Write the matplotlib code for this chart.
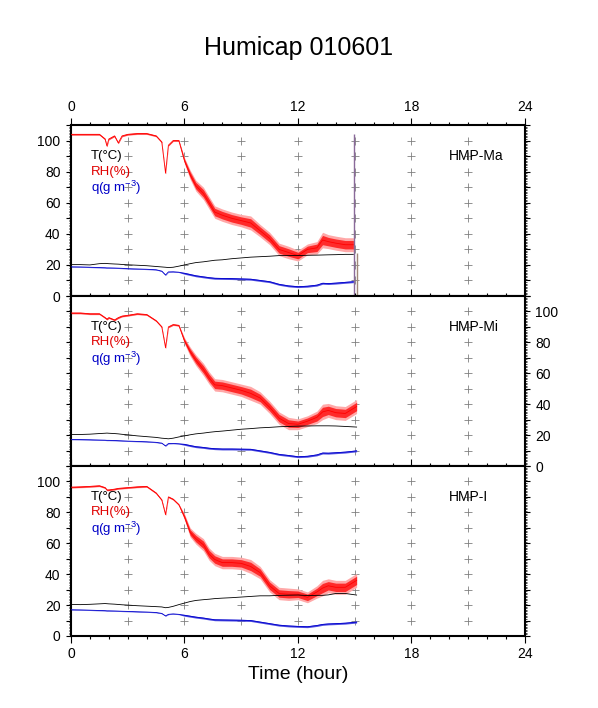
import numpy as np
from matplotlib import pyplot as plt
from matplotlib.ticker import MultipleLocator, FuncFormatter

plt.rcParams['font.family'] = ['Liberation Sans', 'DejaVu Sans']
plt.rcParams['mathtext.fontset'] = 'custom'
plt.rcParams['mathtext.rm'] = 'Liberation Sans'
plt.rcParams['mathtext.default'] = 'regular'

# sample times (hour)
hours = [0, 0.5, 1.0, 1.5, 1.8, 1.9, 2.0, 2.3, 2.5, 2.7, 3.0, 3.5, 4.0, 4.5, 4.8,
         5.0, 5.15, 5.4, 5.7, 6.0, 6.3, 6.6, 7.0, 7.3, 7.6, 8.0, 8.5, 9.0, 9.5,
         10.0, 10.5, 11.0, 11.5, 12.0, 12.5, 13.0, 13.3, 13.6, 14.0, 14.5, 15.1]
hours_ma = hours[:-1] + [14.93]

# HMP-Ma
rh_ma = [104, 104, 104, 104, 101, 96.5, 101, 103, 98.5, 103, 104, 104.5, 104.5, 103, 99,
         79, 97, 100, 100, 87, 78, 71, 66, 60, 54, 52, 50, 48.5, 47,
         42, 37, 30, 28, 26, 30, 31, 36, 35, 34, 33, 33]
t_ma = [20.2, 20.2, 20.0, 20.8, 21.0, 20.9, 20.8, 20.6, 20.5, 20.3, 20.1, 19.8, 19.5, 19.0, 18.7,
        18.5, 18.3, 18.5, 19.2, 20.0, 20.8, 21.5, 22.0, 22.5, 23.0, 23.3, 24.0, 24.5, 25.0,
        25.3, 25.6, 26.0, 26.0, 26.0, 26.2, 26.3, 26.4, 26.5, 26.6, 26.8, 26.8]
q_ma = [18.8, 18.7, 18.5, 18.3, 18.2, 18.1, 18.1, 18.0, 17.9, 17.8, 17.6, 17.4, 17.2, 16.9, 16.0,
        13.5, 15.5, 15.6, 15.3, 14.6, 13.8, 13.0, 12.3, 11.8, 11.4, 11.3, 11.2, 11.0, 10.8,
        10.0, 9.2, 7.5, 6.5, 6.0, 6.3, 7.0, 8.2, 8.0, 8.3, 8.8, 9.2]
# spikes at the end of the HMP-Ma record
spike_hours = [14.95, 15.14]
spike_tops = [104, 27.7]
spike_colors = ['#8a6a9a', '#a08878']

# HMP-Mi
rh_mi = [99, 99, 98.5, 98.5, 96, 95, 96, 94.5, 96, 97, 97.5, 98.5, 98, 94, 90,
         76.5, 90, 91.5, 91, 81, 74, 68.5, 62.5, 57, 52.5, 52, 50.5, 49, 47,
         44, 38, 31, 27.5, 27, 29, 31.5, 35, 36, 34.5, 34, 38.5]
t_mi = [20.4, 20.4, 20.6, 21.0, 21.2, 21.3, 21.2, 21.0, 20.8, 20.5, 20.2, 19.5, 19.0, 18.5, 18.0,
        17.8, 17.6, 18.0, 18.8, 19.5, 20.2, 20.8, 21.3, 21.8, 22.2, 22.6, 23.2, 23.8, 24.2,
        24.7, 25.0, 25.4, 25.6, 25.8, 25.9, 26.0, 26.0, 26.0, 25.9, 25.6, 25.2]
q_mi = [17.2, 17.1, 17.0, 16.8, 16.7, 16.6, 16.6, 16.5, 16.4, 16.3, 16.1, 15.9, 15.7, 15.3, 14.8,
        13.0, 14.5, 14.6, 14.4, 14.0, 13.2, 12.5, 12.0, 11.5, 11.2, 11.0, 11.0, 10.9, 10.8,
        9.8, 8.8, 7.5, 6.8, 6.0, 6.3, 7.2, 8.4, 8.3, 8.6, 9.0, 9.8]

# HMP-I
rh_i = [96.3, 96.5, 96.8, 97.2, 96, 94.5, 94.5, 95, 95.5, 95.7, 96, 96.5, 96.8, 92.5, 88,
        78.5, 90, 88.5, 85, 77, 67, 63, 59, 53, 49.5, 47.5, 47.5, 47, 45,
        41, 32.5, 27.5, 27, 27, 25, 28.5, 31, 32.5, 31.5, 31.5, 36]
t_i = [20.4, 20.3, 20.5, 20.8, 21.0, 20.9, 20.8, 20.6, 20.4, 20.2, 20.0, 19.6, 19.3, 19.0, 18.8,
       18.3, 18.5, 19.2, 20.3, 21.3, 22.3, 23.0, 23.5, 23.8, 24.2, 24.5, 24.8, 25.2, 25.6,
       26.0, 26.0, 26.3, 26.4, 26.5, 26.2, 26.3, 26.3, 26.6, 27.5, 27.5, 26.5]
q_i = [17.0, 16.9, 16.7, 16.5, 16.4, 16.3, 16.3, 16.2, 16.1, 16.0, 15.9, 15.7, 15.5, 15.2, 14.6,
       13.0, 14.0, 14.3, 14.0, 13.4, 12.8, 12.2, 11.6, 11.0, 10.5, 10.4, 10.3, 10.2, 10.0,
       9.0, 8.0, 7.0, 6.5, 6.2, 6.0, 6.8, 7.5, 7.8, 8.0, 8.3, 9.0]

# half width of the scatter around the RH and q traces
rh_spread = [0.6] * 19 + [2.0, 3.0, 3.5, 4, 4, 4, 4, 4, 4, 4.5, 4, 4, 4, 4, 3.5, 3.5, 4,
                          5, 4.5, 4.5, 4.5, 4.5]
q_spread = [0.2] * 19 + [0.6] * 22

panels = [
    ('HMP-Ma', hours_ma, rh_ma, t_ma, q_ma),
    ('HMP-Mi', hours, rh_mi, t_mi, q_mi),
    ('HMP-I', hours, rh_i, t_i, q_i),
]
bottoms = [0.5819, 0.3418, 0.1017]
heights = [0.2415, 0.2401, 0.2401]

fig = plt.figure(figsize=(5.98, 7.08), dpi=100)

def yfmt(v, p):
    return '%d' % round(v) if round(v) % 20 == 0 else ''

for k, (name, h, rh, tt, q) in enumerate(panels):
    ax = fig.add_axes([0.1187, bottoms[k], 0.7592, heights[k]])
    h = np.array(h)
    rh = np.array(rh)
    q = np.array(q)
    sp = np.array(rh_spread)
    qs = np.array(q_spread)

    # "+" grid
    gx, gy = np.meshgrid(np.arange(3, 22, 3), np.arange(10, 101, 10))
    ax.plot(gx.ravel(), gy.ravel(), '+', color='0.5', ms=6, mew=0.6, zorder=1)

    ax.fill_between(h, rh - sp, rh + sp, color='#ffa8a8', lw=0, zorder=2)
    ax.fill_between(h, rh - 0.6 * sp, rh + 0.6 * sp, color='#ff2a2a', lw=0, zorder=2)
    ax.plot(h, rh, color='#ff0000', lw=0.6, zorder=3)
    ax.plot(h, tt, color='black', lw=0.6, zorder=3)
    ax.fill_between(h, q - qs, q + qs, color='#4a4ae0', lw=0, zorder=2)
    ax.plot(h, q, color='#0000cc', lw=0.6, zorder=3)

    if k == 0:
        for sx, st, sc in zip(spike_hours, spike_tops, spike_colors):
            ax.vlines(sx, 0, st, color=sc, lw=1.0, zorder=3)

    ax.text(1.05, 90, 'T(°C)', color='black', fontsize=9.5, va='center')
    ax.text(1.05, 80, 'RH(%)', color='#e00000', fontsize=9.5, va='center')
    ax.text(1.05, 69.5, r'q(g m$^{-3}$)', color='#0000c8', fontsize=9.5, va='center')
    ax.text(20.0, 90, name, color='black', fontsize=10, va='center')

    ax.set_xlim(0, 24)
    ax.set_ylim(0, 110)
    ax.xaxis.set_major_locator(MultipleLocator(6))
    ax.xaxis.set_minor_locator(MultipleLocator(1))
    ax.yaxis.set_major_locator(MultipleLocator(10))
    ax.yaxis.set_minor_locator(MultipleLocator(1))
    ax.yaxis.set_major_formatter(FuncFormatter(yfmt))
    for s in ax.spines.values():
        s.set_linewidth(1.5)
    ax.tick_params(which='both', direction='out', top=True, bottom=True,
                   left=True, right=True, width=0.8, labelsize=10)
    ax.tick_params(axis='x', which='major', length=5, pad=3)
    ax.tick_params(axis='x', which='minor', length=2.5)
    ax.tick_params(axis='y', which='major', length=3.5, pad=4)
    ax.tick_params(axis='y', which='minor', length=1.3, width=0.5)
    ax.tick_params(axis='x', labeltop=(k == 0), labelbottom=(k == 2))
    ax.tick_params(axis='y', labelleft=(k != 1), labelright=(k == 1))

fig.text(0.5, 0.932, 'Humicap 010601', ha='center', va='center', fontsize=18)
fig.text(0.498, 0.048, 'Time (hour)', ha='center', va='center', fontsize=14)

plt.savefig('out.png', dpi=100)
